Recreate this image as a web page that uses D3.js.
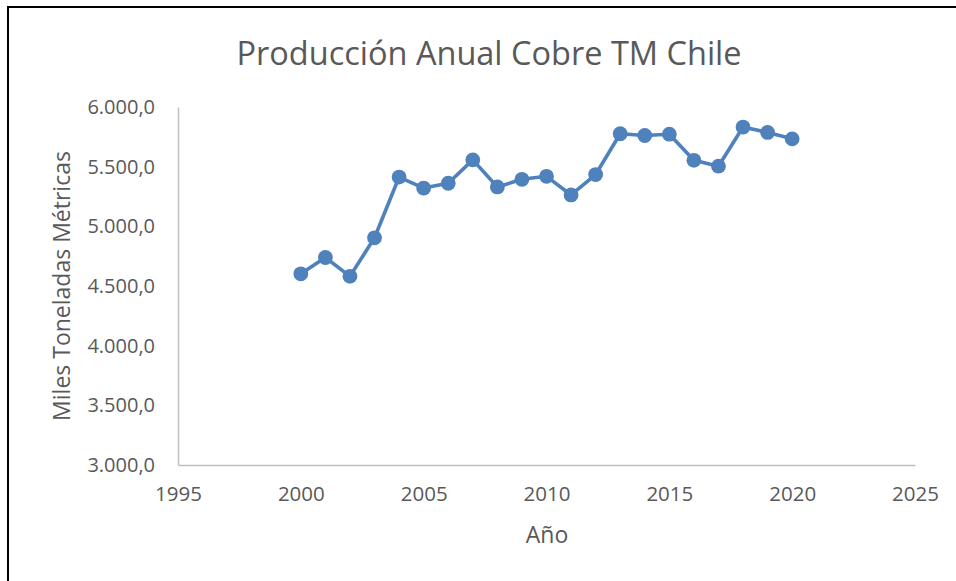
<!DOCTYPE html>
<html>
<head>
<meta charset="utf-8">
<script src="https://cdn.jsdelivr.net/npm/d3@7"></script>
<style>
  body { margin: 0; background: #fff; }
  text { font-family: "Open Sans", sans-serif; fill: #595959; }
</style>
</head>
<body>
<div id="chart"></div>
<script>
// datos: produccion anual de cobre (miles de toneladas metricas)
var years = [2000, 2001, 2002, 2003, 2004, 2005, 2006, 2007, 2008, 2009, 2010,
             2011, 2012, 2013, 2014, 2015, 2016, 2017, 2018, 2019, 2020];
var production = [4602, 4739, 4581, 4904, 5413, 5321, 5361, 5557, 5330, 5394, 5419,
                  5263, 5434, 5776, 5761, 5772, 5553, 5504, 5832, 5787, 5733];
var xTicks = [1995, 2000, 2005, 2010, 2015, 2020, 2025];
var yTicks = [3000, 3500, 4000, 4500, 5000, 5500, 6000];

var width = 956, height = 581;
var plotLeft = 178, plotRight = 915, plotTop = 107, plotBottom = 465;

var svg = d3.select("#chart").append("svg")
    .attr("width", width)
    .attr("height", height);

// marco
svg.append("rect")
    .attr("x", 8).attr("y", 7)
    .attr("width", 960).attr("height", 600)
    .attr("fill", "none")
    .attr("stroke", "#000")
    .attr("stroke-width", 2);

var x = d3.scaleLinear().domain([1995, 2025]).range([plotLeft, plotRight]);
var y = d3.scaleLinear().domain([3000, 6000]).range([plotBottom, plotTop]);

var fmt = function(d) {
    return d3.format(",.1f")(d).replace(/,/g, "#").replace(".", ",").replace(/#/g, ".");
};

// eje y
var yAxis = svg.append("g")
    .attr("transform", "translate(" + plotLeft + ",0)")
    .call(d3.axisLeft(y).tickValues(yTicks).tickSize(0).tickPadding(23).tickFormat(fmt));
yAxis.select(".domain").attr("stroke", "#BFBFBF").attr("stroke-width", 1.5);
yAxis.selectAll("text")
    .style("font-family", "Open Sans")
    .style("font-size", "20px")
    .attr("fill", "#595959");

// eje x
var xAxis = svg.append("g")
    .attr("transform", "translate(0," + plotBottom + ")")
    .call(d3.axisBottom(x).tickValues(xTicks).tickSize(0).tickPadding(21).tickFormat(d3.format("d")));
xAxis.select(".domain").attr("stroke", "#BFBFBF").attr("stroke-width", 1.5);
xAxis.selectAll("text")
    .style("font-family", "Open Sans")
    .style("font-size", "20.5px")
    .attr("fill", "#595959");

// linea
var line = d3.line()
    .x(function(d, i) { return x(years[i]); })
    .y(function(d) { return y(d); });

svg.append("path")
    .datum(production)
    .attr("d", line)
    .attr("fill", "none")
    .attr("stroke", "#4F81BD")
    .attr("stroke-width", 3.6)
    .attr("stroke-linejoin", "round");

svg.selectAll("circle.pt")
    .data(production)
    .enter()
    .append("circle")
    .attr("class", "pt")
    .attr("cx", function(d, i) { return x(years[i]); })
    .attr("cy", function(d) { return y(d); })
    .attr("r", 7.4)
    .attr("fill", "#4F81BD");

// titulos
svg.append("text")
    .attr("x", 489).attr("y", 65)
    .attr("text-anchor", "middle")
    .style("font-size", "32.5px")
    .text("Producción Anual Cobre TM Chile");

svg.append("text")
    .attr("x", 547).attr("y", 543)
    .attr("text-anchor", "middle")
    .style("font-size", "23px")
    .text("Año");

svg.append("text")
    .attr("transform", "translate(70,286) rotate(-90)")
    .attr("text-anchor", "middle")
    .style("font-size", "23px")
    .text("Miles Toneladas Métricas");
</script>
</body>
</html>
